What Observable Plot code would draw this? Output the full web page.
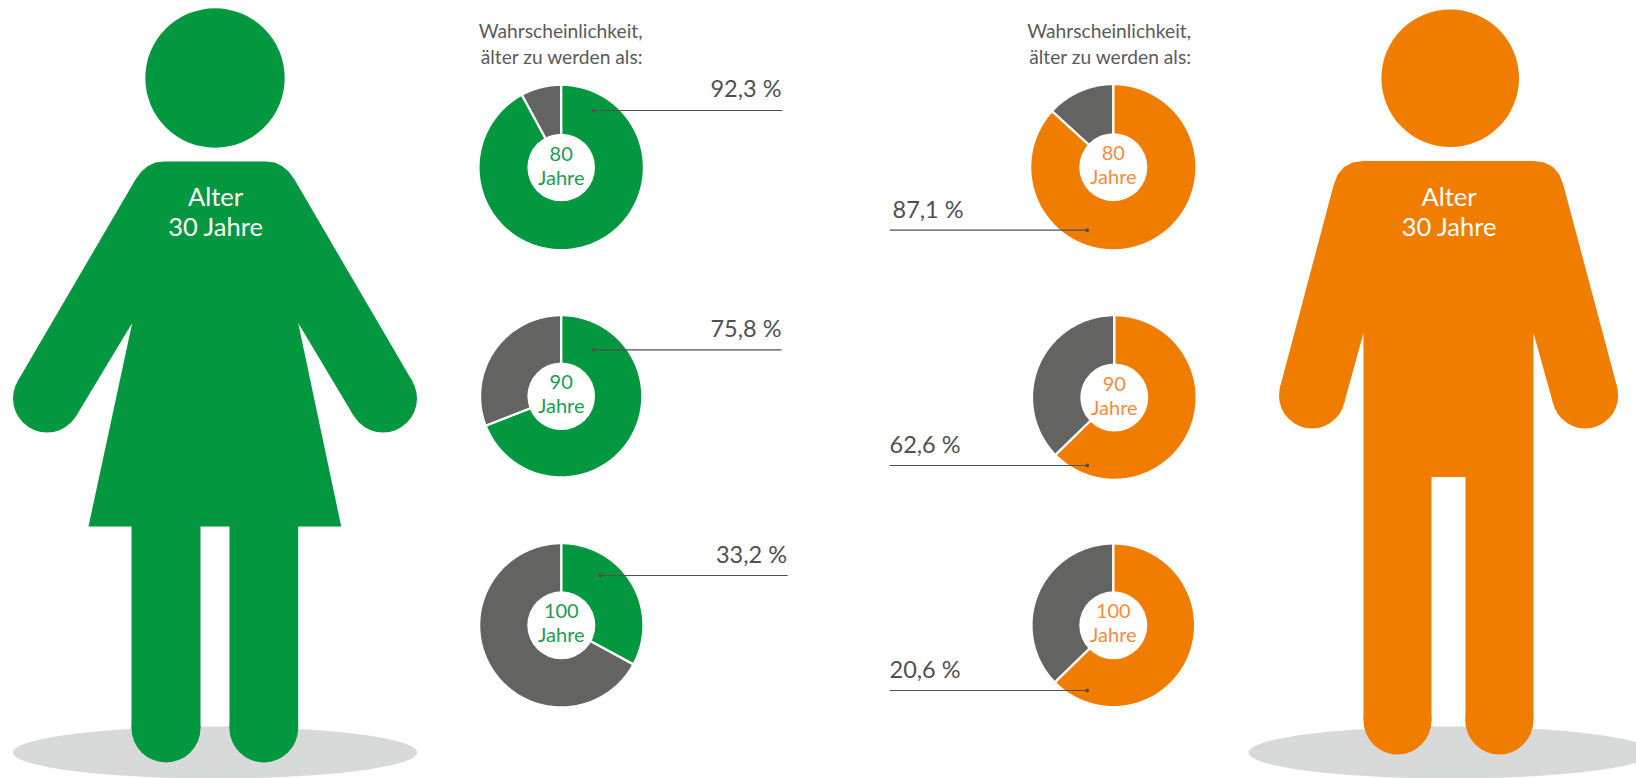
<!DOCTYPE html>
<html lang="de">
<head>
<meta charset="utf-8">
<script src="https://cdn.jsdelivr.net/npm/d3@7"></script>
<script src="https://cdn.jsdelivr.net/npm/@observablehq/plot@0.6"></script>
<style>
html,body{margin:0;padding:0;background:#fff;overflow:hidden}
svg{display:block}
</style>
</head>
<body>
<div id="chart"></div>
<script>
// Chart values
const ages = [80, 90, 100];
const womenProbability = [92.3, 75.8, 33.2];
const menProbability = [87.1, 62.6, 20.6];
// Coloured share of each ring as it is drawn in the picture
const womenRingShare = [92.1, 69.1, 32.9];
const menRingShare = [86.8, 62.7, 62.7];
const figureLines = ["Alter", "30 Jahre"];
const headingLines = ["Wahrscheinlichkeit,", "älter zu werden als:"];

// Silhouette outlines
const womanBody = [[163,161],[266,161],[274.1,162.1],[281.5,165.5],[288.1,171.1],[294,179],[412,381],[353,415],[297.7,322.6],[340.7,526],[297.7,526],[297.7,728],[229,728],[229,526],[200,526],[200,728],[131,728],[131,526],[88,526],[131.7,322.6],[76,415],[17,381],[135,179],[140.9,171.1],[147.5,165.5],[154.9,162.1]];
const womanRound = [
  {x:214.5,y:77.5,r:69.7},{x:46.5,y:398,r:34},{x:382.5,y:398,r:34},
  {x:165.5,y:727.5,r:34.5},{x:263.3,y:727.5,r:34.4}
];
const manBody = [[1363,160.5],[1533,160.5],[1543.9,162],[1552.5,166.6],[1558.9,174.3],[1563,185],[1616.6,386.5],[1552.8,403.5],[1533,332.5],[1533,720],[1465,720],[1465,476.5],[1431,476.5],[1431,720],[1363,720],[1363,332.5],[1343.4,403.5],[1279.6,386.5],[1333,185],[1337.1,174.3],[1343.5,166.6],[1352.1,162]];
const manRound = [
  {x:1449.7,y:77.7,r:68.8},{x:1311.5,y:395,r:33},{x:1584.7,y:395,r:33},
  {x:1397,y:720,r:34},{x:1498.8,y:720,r:34}
];

// Layout
const GREEN = "#03973f", ORANGE = "#f07d00", GREY = "#636361", SHADOW = "#d8dad9", INK = "#505050";
const GREEN_TEXT = "#1d9c50", ORANGE_TEXT = "#f48c3c";
const FONT = "Lato, 'Noto Sans', sans-serif";
const womenRings = [
  {cx:560.7,cy:167,r:81.6,hole:33.8,leaderY:110,x1:593.3,x2:781.5,labelY:96,labelX:781},
  {cx:560.7,cy:395.8,r:80,hole:33.8,leaderY:349.3,x1:593.3,x2:780.7,labelY:336,labelX:781},
  {cx:560.8,cy:624.8,r:81,hole:34,leaderY:575,x1:599.7,x2:786.7,labelY:562,labelX:786.5}
];
const menRings = [
  {cx:1112.8,cy:166.7,r:82,hole:34,leaderY:229.7,x1:1086.7,x2:889.7,labelY:217,labelX:892},
  {cx:1113.8,cy:397,r:81.2,hole:34,leaderY:465,x1:1086.7,x2:889.7,labelY:452,labelX:889},
  {cx:1112.8,cy:624.8,r:80.7,hole:34,leaderY:690,x1:1086.7,x2:889.7,labelY:677,labelX:889}
];

const sector = ({cx, cy, r}, from, to) => {
  const a0 = from * 3.6, a1 = to * 3.6;
  const angles = d3.range(a0, a1, 1).concat([a1]);
  const pts = angles.map(a => {
    const t = a * Math.PI / 180;
    return [cx + r * Math.sin(t), cy - r * Math.cos(t)];
  });
  return [[cx, cy], ...pts];
};
const shadowShape = (cx, cy, rx, ry) => d3.range(0, 360, 2).map(a => {
  const t = a * Math.PI / 180;
  return [cx + rx * Math.cos(t), cy + ry * Math.sin(t)];
});
const de = v => v.toFixed(1).replace(".", ",") + " %";

const xy = {x: d => d[0], y: d => d[1]};

function ringMarks(rings, shares, values, colour, textColour, anchor) {
  const marks = [];
  rings.forEach((g, i) => {
    const s = shares[i];
    marks.push(Plot.line(sector(g, 0, s), {...xy, fill: colour, stroke: "none"}));
    marks.push(Plot.line(sector(g, s, 100), {...xy, fill: GREY, stroke: "none"}));
    marks.push(Plot.line(sector(g, 0, 0), {...xy, stroke: "#fff", strokeWidth: 2.4}));
    marks.push(Plot.line(sector(g, s, s), {...xy, stroke: "#fff", strokeWidth: 2.4}));
    marks.push(Plot.dot([g], {x: "cx", y: "cy", r: d => d.hole, fill: "#fff", stroke: "none"}));
    marks.push(Plot.line([[g.x1, g.leaderY], [g.x2, g.leaderY]], {...xy, stroke: INK, strokeWidth: 1.2}));
    marks.push(Plot.dot([g], {x: "x1", y: "leaderY", r: d => 1.9, fill: INK, stroke: "none"}));
    marks.push(Plot.text([de(values[i])], {x: g.labelX, y: g.labelY, text: d => d, textAnchor: anchor, lineAnchor: "bottom", fontSize: 23.5, fill: INK, fontFamily: FONT}));
    const baseAge = g.cy - 7;
    marks.push(Plot.text([String(ages[i])], {x: g.cx, y: baseAge, text: d => d, textAnchor: "middle", lineAnchor: "bottom", fontSize: 20, fill: textColour, fontFamily: FONT}));
    marks.push(Plot.text(["Jahre"], {x: g.cx, y: baseAge + 24, text: d => d, textAnchor: "middle", lineAnchor: "bottom", fontSize: 20, fill: textColour, fontFamily: FONT}));
  });
  return marks;
}
function figureMarks(body, round, colour, cx, textX) {
  return [
    Plot.line(shadowShape(cx, 752, 202, 26), {...xy, fill: SHADOW, stroke: "none"}),
    Plot.line(body, {...xy, fill: colour, stroke: "none"}),
    Plot.dot(round, {x: "x", y: "y", r: "r", fill: colour, stroke: "none"}),
    Plot.text([figureLines[0]], {x: textX, y: 205, text: d => d, textAnchor: "middle", lineAnchor: "bottom", fontSize: 25.5, fill: "#fff", fontFamily: FONT}),
    Plot.text([figureLines[1]], {x: textX, y: 235, text: d => d, textAnchor: "middle", lineAnchor: "bottom", fontSize: 25.5, fill: "#fff", fontFamily: FONT})
  ];
}
function headingMarks(x) {
  return headingLines.map((t, i) => Plot.text([t], {x, y: 37 + i * 26, text: d => d, textAnchor: "end", lineAnchor: "bottom", fontSize: 19.2, fill: "#5a5a5a", fontFamily: FONT}));
}

const chart = Plot.plot({
  width: 1636, height: 778, margin: 0,
  x: {domain: [0, 1636], range: [0, 1636], axis: null},
  y: {domain: [0, 778], range: [0, 778], axis: null},
  r: {type: "identity"},
  style: {background: "#fff", maxWidth: "none"},
  marks: [
    ...figureMarks(womanBody, womanRound, GREEN, 214.5, 215),
    ...figureMarks(manBody, manRound, ORANGE, 1450, 1448.5),
    ...headingMarks(642),
    ...headingMarks(1190.5),
    ...ringMarks(womenRings, womenRingShare, womenProbability, GREEN, GREEN_TEXT, "end"),
    ...ringMarks(menRings, menRingShare, menProbability, ORANGE, ORANGE_TEXT, "start")
  ]
});
document.getElementById("chart").append(chart);
</script>
</body>
</html>
